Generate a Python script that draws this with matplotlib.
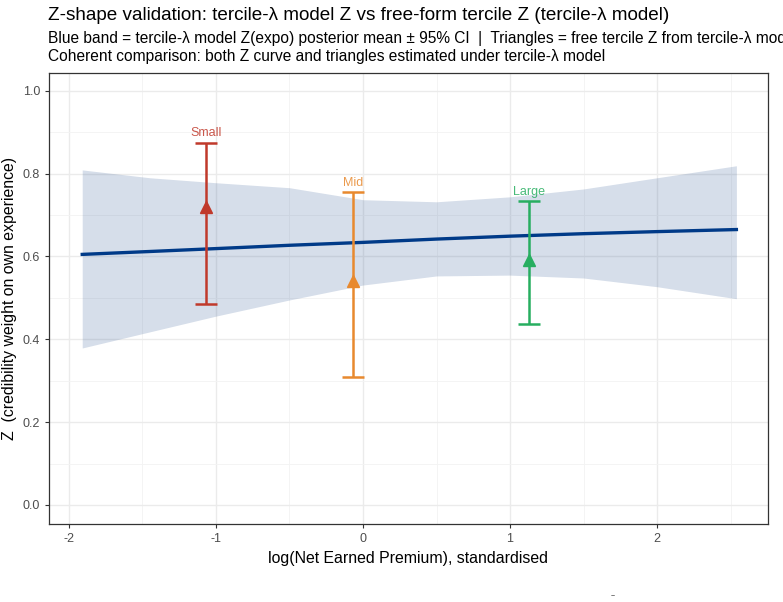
import matplotlib.pyplot as plt

plt.rcParams['font.family'] = ['Liberation Sans', 'DejaVu Sans']

# posterior mean curve and 95% band
curve_x = [-1.91, -1.45, -1.0, -0.5, 0.0, 0.5, 1.0, 1.5, 2.0, 2.54]
curve_mean = [0.605, 0.612, 0.619, 0.627, 0.634, 0.642, 0.649, 0.655, 0.660, 0.665]
band_lo = [0.379, 0.418, 0.456, 0.495, 0.531, 0.553, 0.555, 0.548, 0.527, 0.498]
band_hi = [0.809, 0.790, 0.778, 0.766, 0.737, 0.732, 0.744, 0.763, 0.790, 0.819]

# free tercile Z
terciles = ['Small', 'Mid', 'Large']
tercile_x = [-1.065, -0.065, 1.13]
tercile_z = [0.72, 0.54, 0.592]
tercile_lo = [0.486, 0.308, 0.438]
tercile_hi = [0.875, 0.755, 0.733]
tercile_colors = ['#C0392B', '#E8892E', '#27AE60']

fig = plt.figure(figsize=(7.83, 6.02), dpi=100)
ax = fig.add_axes([49 / 783, 1 - 524 / 602, 719 / 783, 451 / 602])

ax.fill_between(curve_x, band_lo, band_hi, color='#325A96', alpha=0.2, lw=0, zorder=2)
ax.plot(curve_x, curve_mean, color='#003A88', lw=2.4, zorder=3)

for name, x, z, lo, hi, c in zip(terciles, tercile_x, tercile_z, tercile_lo, tercile_hi, tercile_colors):
    ax.errorbar(x, z, yerr=[[z - lo], [hi - z]], fmt='^', color=c, ms=9,
                elinewidth=1.8, capsize=8, capthick=1.8, zorder=4)
    ax.text(x, hi + 0.008, name, color=c, alpha=0.85, fontsize=9, ha='center', va='bottom', zorder=5)

ax.set_xlim(-2.136, 2.755)
ax.set_ylim(-0.046, 1.043)
ax.set_xticks([-2, -1, 0, 1, 2])
ax.set_xticklabels(['-2', '-1', '0', '1', '2'])
ax.set_yticks([0.0, 0.2, 0.4, 0.6, 0.8, 1.0])
ax.set_yticklabels(['0.0', '0.2', '0.4', '0.6', '0.8', '1.0'])
ax.set_xticks([-1.5, -0.5, 0.5, 1.5, 2.5], minor=True)
ax.set_yticks([0.1, 0.3, 0.5, 0.7, 0.9], minor=True)
ax.grid(True, which='major', color='#EBEBEB', lw=1.0, zorder=0)
ax.grid(True, which='minor', color='#F3F3F3', lw=0.6, zorder=0)
ax.set_axisbelow(True)
ax.tick_params(which='major', length=3, color='#333333', labelsize=9, labelcolor='#4D4D4D')
ax.tick_params(which='minor', length=0)
for s in ax.spines.values():
    s.set_color('#333333')
    s.set_linewidth(0.9)

ax.set_xlabel('log(Net Earned Premium), standardised', fontsize=11.4, labelpad=4)
ax.set_ylabel('Z  (credibility weight on own experience)', fontsize=11.4, labelpad=4)

fig.text(48 / 783, 1 - 15 / 602, 'Z-shape validation: tercile-λ model Z vs free-form tercile Z (tercile-λ model)',
         fontsize=13.6, ha='left', va='center')
fig.text(48 / 783, 1 - 38 / 602,
         'Blue band = tercile-λ model Z(expo) posterior mean ± 95% CI  |  Triangles = free tercile Z from tercile-λ model',
         fontsize=11.2, ha='left', va='center')
fig.text(48 / 783, 1 - 56 / 602, 'Coherent comparison: both Z curve and triangles estimated under tercile-λ model',
         fontsize=11.2, ha='left', va='center')
fig.text(613 / 783, 1 - 597 / 602, '~', fontsize=5, ha='center', va='center')

fig.savefig('out.png', dpi=100)
